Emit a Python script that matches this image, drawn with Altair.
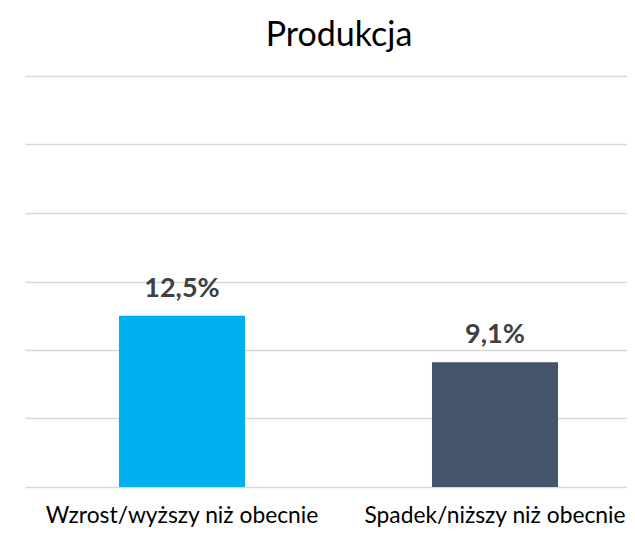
import altair as alt
import pandas as pd

categories = ["Wzrost/wyższy niż obecnie", "Spadek/niższy niż obecnie"]
values = [0.125, 0.091]
labels = ["12,5%", "9,1%"]
colors = ["#00B0F0", "#44546A"]
y_ticks = [0, 0.05, 0.10, 0.15, 0.20, 0.25, 0.30]

df = pd.DataFrame({"cat": categories, "val": values, "lab": labels})

FONT = "Lato"

x_enc = alt.X(
    "cat:N",
    sort=categories,
    title=None,
    scale=alt.Scale(range=[0, 627], paddingInner=0.5974, paddingOuter=0.3003),
    axis=alt.Axis(
        labelAngle=0,
        labelFont=FONT,
        labelFontSize=22.8,
        labelColor="#000000",
        labelBaseline="alphabetic",
        labelPadding=35,
        tickSize=0,
        ticks=False,
        domain=False,
        grid=False,
        labelLimit=400,
    ),
)
y_enc = alt.Y(
    "val:Q",
    title=None,
    scale=alt.Scale(domain=[0, 0.30], nice=False, zero=True),
    axis=alt.Axis(
        values=y_ticks,
        labels=False,
        ticks=False,
        domain=False,
        grid=True,
        gridColor="#D9D9D9",
        gridWidth=1.5,
    ),
)

bars = alt.Chart(df).mark_bar().encode(
    x=x_enc,
    y=y_enc,
    color=alt.Color("cat:N", sort=categories,
                    scale=alt.Scale(domain=categories, range=colors), legend=None),
)

text = alt.Chart(df).mark_text(
    font=FONT, fontSize=27, fontWeight="bold", color="#404040",
    baseline="alphabetic", dy=-19,
).encode(
    x=alt.X("cat:N", sort=categories),
    y=alt.Y("val:Q"),
    text="lab:N",
)

chart = alt.layer(bars, text).properties(
    width=602,
    height=411,
    title=alt.TitleParams(
        "Produkcja", font=FONT, fontSize=34, fontWeight="normal",
        color="#000000", anchor="middle", baseline="alphabetic", offset=4,
        dx=13, dy=8,
    ),
    autosize=alt.AutoSizeParams(type="none"),
    padding={"left": 17, "top": 68, "right": 0, "bottom": 41},
).configure_view(stroke=None)

chart.save("out.html", embed_options={"renderer": "svg", "actions": False})
